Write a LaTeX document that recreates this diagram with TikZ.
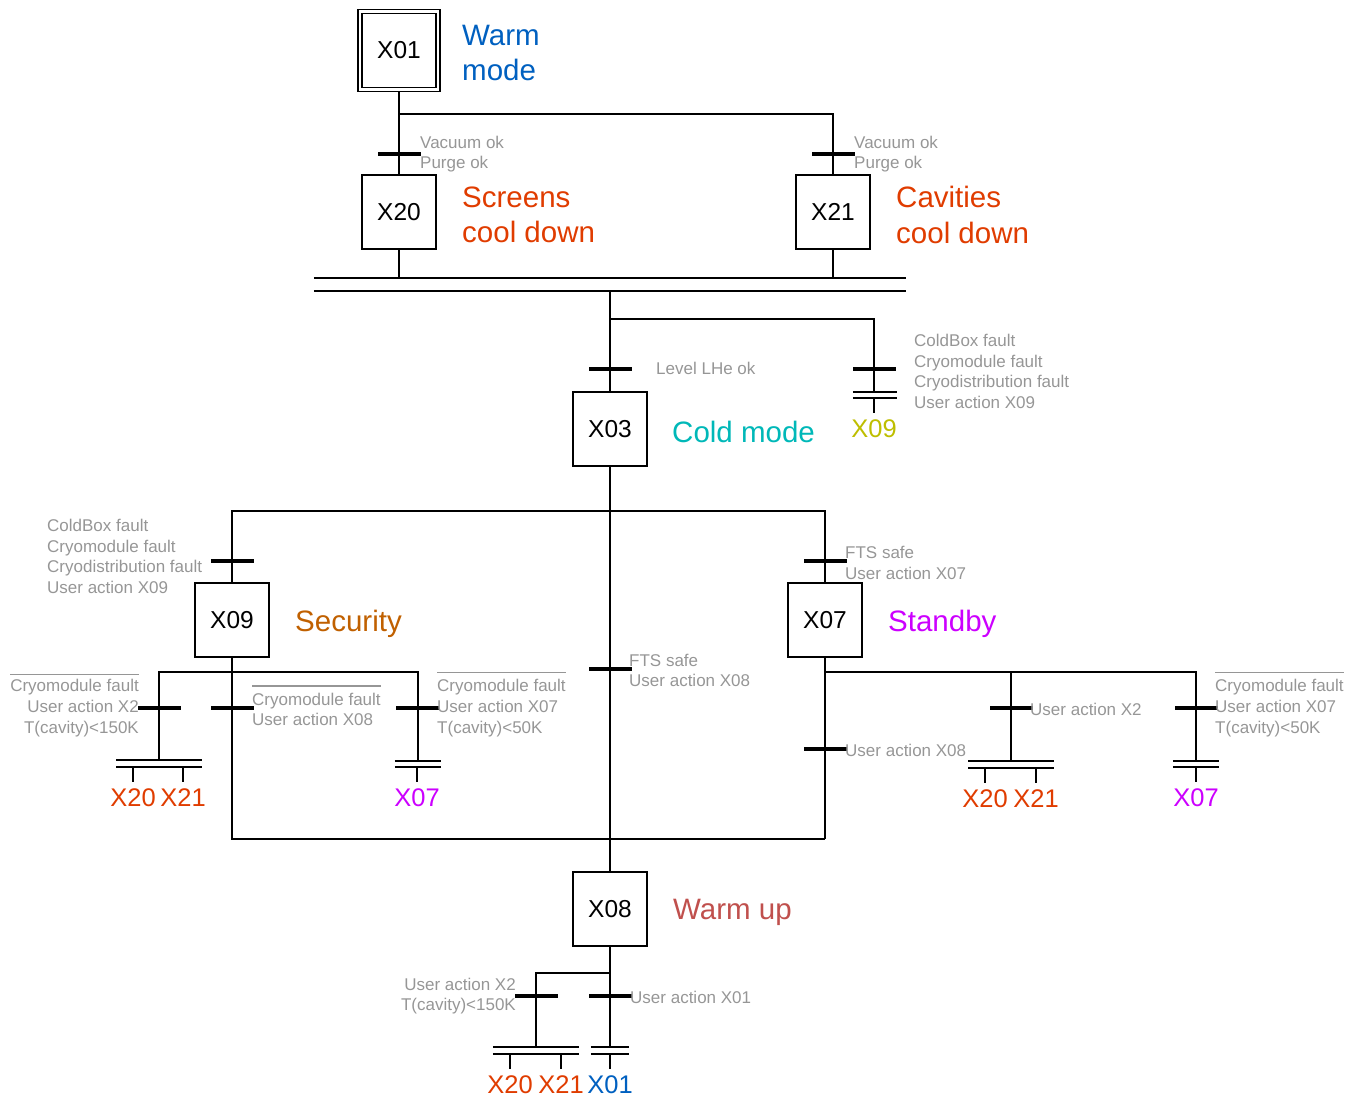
\documentclass[tikz,border=0pt]{standalone}
\usepackage{fontspec}
\setmainfont{Liberation Sans}
\usetikzlibrary{fit}
\definecolor{cblue}{RGB}{0,96,192}
\definecolor{cred}{RGB}{224,60,0}
\definecolor{cteal}{RGB}{0,184,184}
\definecolor{cyel}{RGB}{190,190,0}
\definecolor{cbrown}{RGB}{192,96,0}
\definecolor{cpurp}{RGB}{204,0,255}
\definecolor{cwarm}{RGB}{192,80,77}
\definecolor{cgray}{RGB}{150,150,150}
\tikzset{
 stepbox/.style={draw, line width=1.5pt, minimum size=74pt, inner sep=0pt, font=\fontsize{24.5}{30}\selectfont},
 trbar/.style={fill=black, minimum width=43pt, minimum height=4pt, inner sep=0pt},
 cond/.style={text=cgray, font=\fontsize{17}{20.6}\selectfont, inner sep=0pt, yshift=-1.5pt},
 steplabel/.style={font=\fontsize{29.5}{35.5}\selectfont, inner sep=0pt, align=left, anchor=west, yshift=-1pt},
 ref/.style={font=\fontsize{25.5}{30}\selectfont, inner xsep=0pt, inner ysep=7pt, yshift=-0.8pt},
 syncbar/.style={inner sep=0pt, minimum height=#1},
 wire/.style={line width=1.5pt},
 ovl/.style={draw=cgray, line width=1.5pt}
}
\begin{document}
\begin{tikzpicture}[x=1pt,y=-1pt]
\useasboundingbox (0,0) rectangle (1362,1098);
% steps
\node[stepbox] (X01) at (399,50.5) {X01};
\node[draw, line width=1.5pt, fit=(X01), inner sep=3.2pt] (X01o) {};
\node[stepbox] (X20) at (399,212) {X20};
\node[stepbox] (X21) at (833,212) {X21};
\node[stepbox] (X03) at (610,429) {X03};
\node[stepbox] (X09) at (232,620) {X09};
\node[stepbox] (X07) at (825,620) {X07};
\node[stepbox] (X08) at (610,909) {X08};
% step labels
\node[steplabel, text=cblue] (lX01) at (462,52) {Warm\\mode};
\node[steplabel, text=cred] (lX20) at (462,214) {Screens\\cool down};
\node[steplabel, text=cred] (lX21) at (896,214) {Cavities\\cool down};
\node[steplabel, text=cteal] (lX03) at (672,431) {Cold mode};
\node[steplabel, text=cbrown, text depth=0pt] (lX09) at (295,620) {Security};
\node[steplabel, text=cpurp, text depth=0pt] (lX07) at (888,620) {Standby};
\node[steplabel, text=cwarm, text depth=0pt] (lX08) at (673,908) {Warm up};
% sync bars
\node[syncbar=13pt, minimum width=592pt] (S1) at (610,284.5) {};
\node[syncbar=6pt, minimum width=44pt] (S2) at (875,395) {};
\node[syncbar=7pt, minimum width=85pt] (S3) at (159,763.5) {};
\node[syncbar=6pt, minimum width=46pt] (S4) at (418,764) {};
\node[syncbar=7pt, minimum width=85pt] (S5) at (1011,764.5) {};
\node[syncbar=6pt, minimum width=46pt] (S6) at (1196,764) {};
\node[syncbar=7pt, minimum width=86pt] (S7) at (536,1050.5) {};
\node[syncbar=7pt, minimum width=38pt] (S8) at (610,1050.5) {};
\foreach \s in {S1,S2,S3,S4,S5,S6,S7,S8}{
  \draw[wire] (\s.north west) -- (\s.north east);
  \draw[wire] (\s.south west) -- (\s.south east);
}
% reference labels
\node[ref, text=cyel] (rX09) at (874,428) {X09};
\node[ref, text=cred] (r1) at (133,797) {X20};
\node[ref, text=cred] (r2) at (183,797) {X21};
\node[ref, text=cpurp] (r3) at (417,797) {X07};
\node[ref, text=cred] (r4) at (985,798) {X20};
\node[ref, text=cred] (r5) at (1036,798) {X21};
\node[ref, text=cpurp] (r6) at (1196,797) {X07};
\node[ref, text=cred] (r7) at (510,1084) {X20};
\node[ref, text=cred] (r8) at (561,1084) {X21};
\node[ref, text=cblue] (r9) at (610,1084) {X01};
% junction coordinates
\coordinate (j1) at (399,114);
\coordinate (j2) at (610,319);
\coordinate (j3) at (610,511);
\coordinate (k1) at (232,672);
\coordinate (k2) at (825,672);
\coordinate (b2) at (825,839);
\coordinate (k3) at (610,973);
% wires
\draw[wire] (X01o) -- (X20);
\draw[wire] (j1) -| (X21);
\draw[wire] (X20) -- (X20 |- S1.north);
\draw[wire] (X21) -- (X21 |- S1.north);
\draw[wire] (S1.south -| X03) -- (X03);
\draw[wire] (j2) -| (S2.north -| rX09);
\draw[wire] (S2.south -| rX09) -- (rX09);
\draw[wire] (X03) -- (X08);
\draw[wire] (X09) |- (j3) -| (X07);
\draw[wire] (X09) |- (b2);
\draw[wire] (X07) -- (b2);
\draw[wire] (S3.north) -- (S3.north |- k1) -- (S4.north |- k1) -- (S4.north);
\draw[wire] (k2) -| (S6.north);
\draw[wire] (S5.north) -- (S5.north |- k2);
\draw[wire] (X08) -- (S8.north);
\draw[wire] (k3) -| (S7.north);
\foreach \r/\s in {r1/S3,r2/S3,r3/S4,r4/S5,r5/S5,r6/S6,r7/S7,r8/S7,r9/S8}{
  \draw[wire] (\s.south -| \r) -- (\r);
}
% transitions
\node[trbar] (t1) at (399,154) {};
\node[trbar] (t2) at (833,154) {};
\node[trbar] (t3) at (610,369) {};
\node[trbar] (t4) at (874,369) {};
\node[trbar] (t5) at (232,561) {};
\node[trbar] (t6) at (825,561) {};
\node[trbar] (t7) at (610,669) {};
\node[trbar] (t8) at (159,708) {};
\node[trbar] (t9) at (232,708) {};
\node[trbar] (t10) at (417,708) {};
\node[trbar] (t11) at (825,749) {};
\node[trbar] (t12) at (1011,708) {};
\node[trbar] (t13) at (1196,708) {};
\node[trbar] (t14) at (536,996) {};
\node[trbar] (t15) at (610,996) {};
% conditions
\node[cond, align=left, anchor=west] (c1) at (420,152.5) {Vacuum ok\\Purge ok};
\node[cond, align=left, anchor=west] (c2) at (854,152.5) {Vacuum ok\\Purge ok};
\node[cond, anchor=west] (c3) at (656,367) {Level LHe ok};
\node[cond, align=left, anchor=west] (c4) at (914,370) {ColdBox fault\\Cryomodule fault\\Cryodistribution fault\\User action X09};
\node[cond, align=left, anchor=west] (c5) at (47,555) {ColdBox fault\\Cryomodule fault\\Cryodistribution fault\\User action X09};
\node[cond, align=left, anchor=west] (c6) at (845,561.5) {FTS safe\\User action X07};
\node[cond, align=left, anchor=west] (c7) at (629,669) {FTS safe\\User action X08};
\node[cond, align=right, anchor=east] (c8) at (139,706.5) {Cryomodule fault\\User action X2\\T(cavity)<150K};
\node[cond, align=left, anchor=west] (c9) at (252,708) {Cryomodule fault\\User action X08};
\node[cond, align=left, anchor=west] (c10) at (437,706.5) {Cryomodule fault\\User action X07\\T(cavity)<50K};
\node[cond, anchor=west] (c11) at (1030,708) {User action X2};
\node[cond, anchor=west] (c12) at (845,749) {User action X08};
\node[cond, align=left, anchor=west] (c13) at (1215,706.5) {Cryomodule fault\\User action X07\\T(cavity)<50K};
\node[cond, align=right, anchor=east] (c14) at (516,994.5) {User action X2\\T(cavity)<150K};
\node[cond, anchor=west] (c15) at (630,996) {User action X01};
% negation overlines
\draw[ovl] ([yshift=5pt]c8.north west) -- ([yshift=5pt]c8.north east);
\draw[ovl] ([yshift=7pt]c9.north west) -- ([yshift=7pt]c9.north east);
\draw[ovl] ([yshift=7pt]c10.north west) -- ([yshift=7pt]c10.north east);
\draw[ovl] ([yshift=7pt]c13.north west) -- ([yshift=7pt]c13.north east);
\end{tikzpicture}
\end{document}
